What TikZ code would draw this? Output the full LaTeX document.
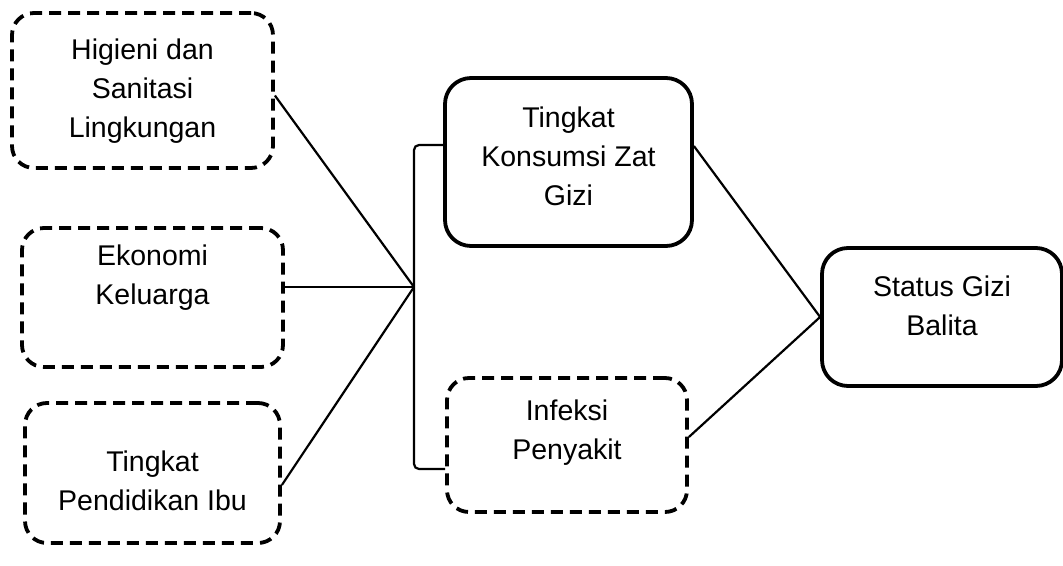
\documentclass[tikz,border=0pt]{standalone}
\usepackage{fontspec}
\setmainfont{Liberation Sans}
\begin{document}
\begin{tikzpicture}[x=1pt,y=-1pt,
  box/.style={rounded corners=22pt, line width=3.8pt, inner sep=0pt},
  dbox/.style={box, dash pattern=on 12pt off 7pt},
  sbox/.style={box, rounded corners=26pt},
  txt/.style={align=center, font=\fontsize{28.5}{39}\selectfont},
  link/.style={line width=2.2pt}]
\useasboundingbox (0,0) rectangle (1063,565);
% factor boxes
\node[dbox, draw, minimum width=261pt, minimum height=155pt] (b1) at (142.5,90.5) {};
\node[dbox, draw, minimum width=261pt, minimum height=139pt] (b2) at (152.5,297.5) {};
\node[dbox, draw, minimum width=255pt, minimum height=140pt] (b3) at (152.5,473) {};
\node[sbox, draw, minimum width=247pt, minimum height=168pt] (b4) at (568.5,162) {};
\node[dbox, draw, minimum width=240pt, minimum height=134pt] (b5) at (567,445) {};
\node[sbox, draw, minimum width=240pt, minimum height=138pt] (b6) at (942,317) {};
% texts
\node[txt] (t1) at (142.5,91) {Higieni dan\\Sanitasi\\Lingkungan};
\node[txt] (t2) at (152.5,278) {Ekonomi\\Keluarga};
\node[txt] (t3) at (152.5,481) {Tingkat\\Pendidikan Ibu};
\node[txt] (t4) at (568.5,156) {Tingkat\\Konsumsi Zat\\Gizi};
\node[txt] (t5) at (567,433) {Infeksi\\Penyakit};
\node[txt] (t6) at (942,306) {Status Gizi\\Balita};
% bracket joining the factors
\coordinate (j) at (414,287);
\coordinate (bt) at (414,145);
\coordinate (bb) at (414,469);
\draw[link, rounded corners=5pt] (b4.west |- bt) -- (bt) -- (bb) -- (b5.west |- bb);
\draw[link] ([yshift=-5pt]b1.east) -- (j);
\draw[link] (b2.east |- j) -- (j);
\draw[link] ([yshift=-12pt]b3.east) -- (j);
% to nutritional status
\coordinate (s) at (b6.west);
\draw[link] ([yshift=16pt]b4.east) -- (s);
\draw[link] ([yshift=8pt]b5.east) -- (s);
\end{tikzpicture}
\end{document}
